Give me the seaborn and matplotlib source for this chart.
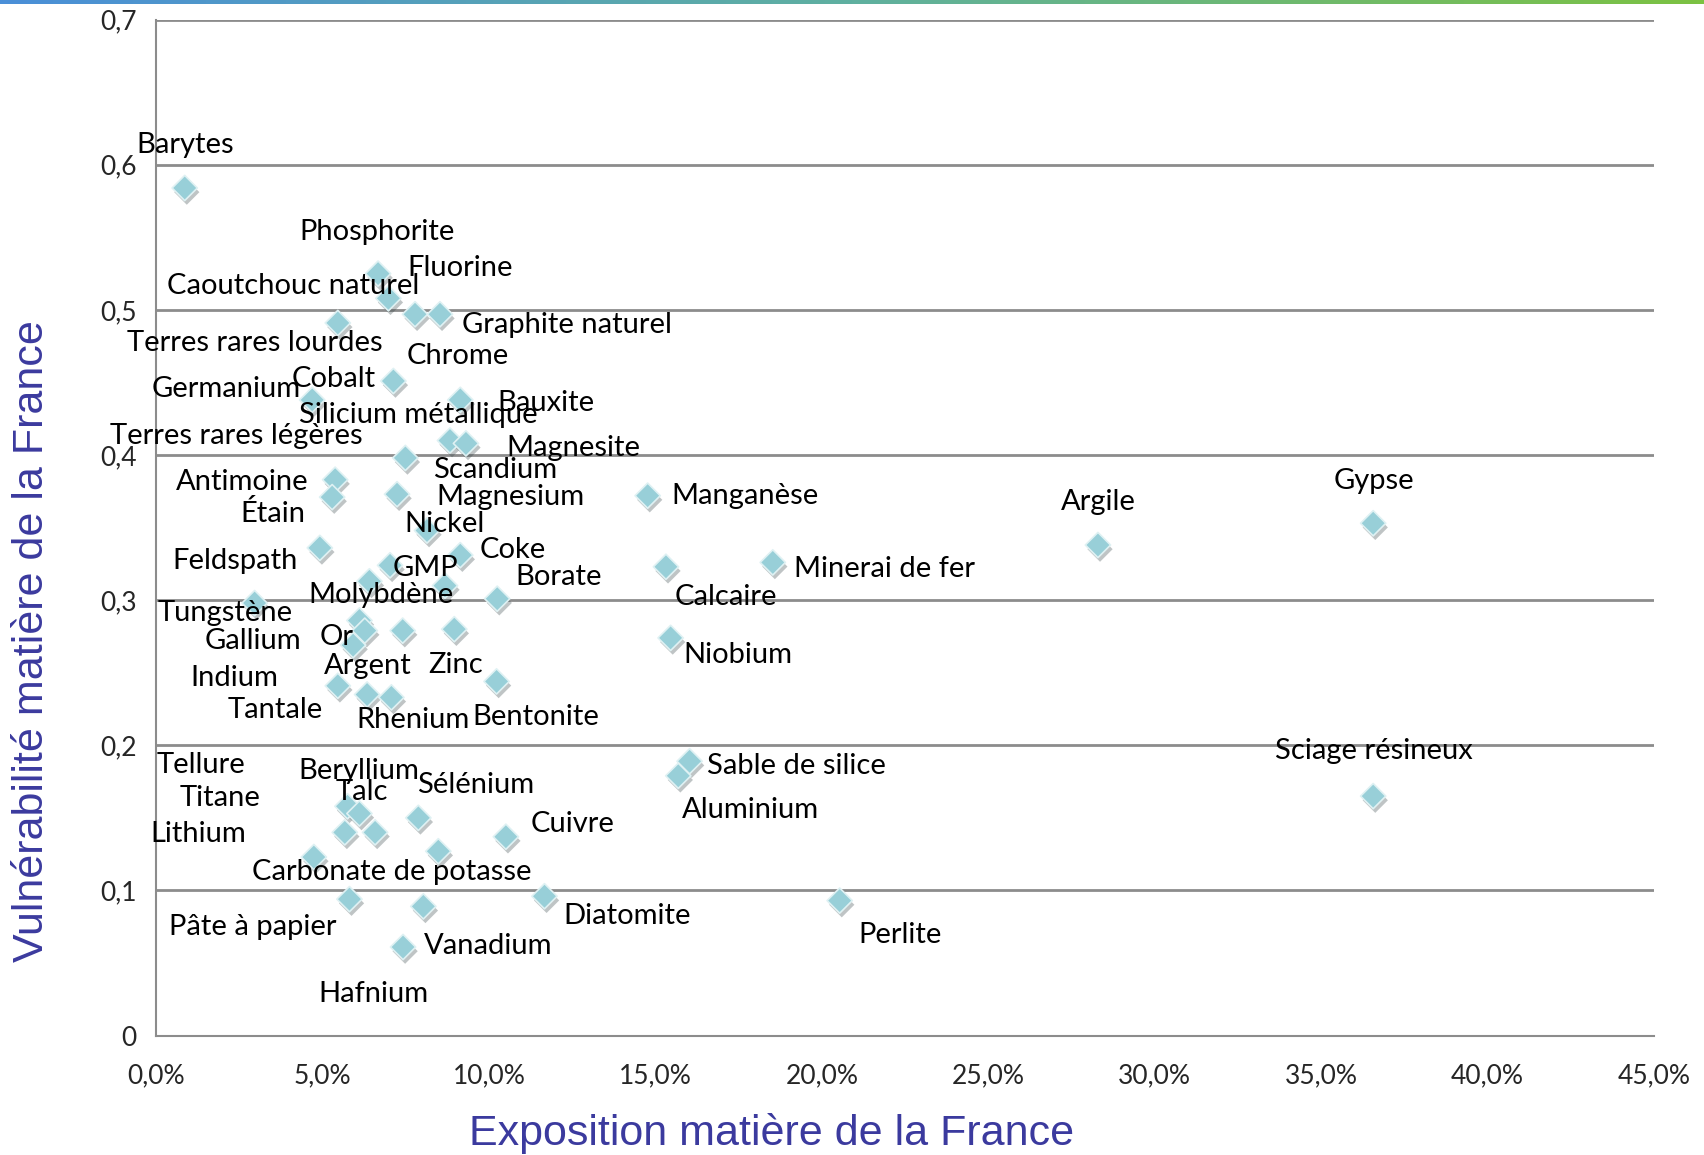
import numpy as np
import pandas as pd
import seaborn as sns
import matplotlib.pyplot as plt
import matplotlib.patheffects as pe
from matplotlib.colors import LinearSegmentedColormap
from matplotlib.ticker import FuncFormatter, MultipleLocator

# Matières premières : exposition (part) et vulnérabilité
matieres = [
    "Barytes", "Phosphorite", "Caoutchouc naturel", "Fluorine", "Graphite naturel",
    "Terres rares lourdes", "Chrome", "Germanium", "Bauxite", "Silicium métallique",
    "Magnesite", "Scandium", "Antimoine", "Étain", "Magnesium", "Manganèse", "Nickel",
    "Feldspath", "Coke", "GMP", "Molybdène", "Cobalt", "Calcaire", "Borate",
    "Tungstène", "Or", "Argent", "Terres rares légères", "Zinc", "Gallium", "Niobium",
    "Indium", "Tantale", "Rhenium", "Bentonite", "Gypse", "Argile", "Minerai de fer",
    "Sciage résineux", "Perlite", "Sable de silice", "Aluminium", "Tellure",
    "Beryllium", "Sélénium", "Titane", "Talc", "Cuivre", "Carbonate de potasse",
    "Lithium", "Pâte à papier", "Vanadium", "Diatomite", "Hafnium",
]
exposition = [
    0.0085, 0.0666, 0.0697, 0.0777, 0.0852,
    0.0545, 0.0712, 0.0468, 0.0913, 0.0882,
    0.0930, 0.0748, 0.0537, 0.0528, 0.0723, 0.1476, 0.0813,
    0.0491, 0.0913, 0.0702, 0.0640, 0.0867, 0.1531, 0.1024,
    0.0295, 0.0610, 0.0626, 0.0740, 0.0895, 0.0591, 0.1545,
    0.0545, 0.0633, 0.0706, 0.1022, 0.3656, 0.2829, 0.1852,
    0.3656, 0.2053, 0.1602, 0.1568, 0.0574,
    0.0610, 0.0787, 0.0566, 0.0657, 0.1050, 0.0847,
    0.0473, 0.0580, 0.0802, 0.1166, 0.0741,
]
vulnerabilite = [
    0.584, 0.525, 0.508, 0.497, 0.497,
    0.491, 0.451, 0.438, 0.438, 0.410,
    0.408, 0.398, 0.383, 0.371, 0.373, 0.372, 0.348,
    0.336, 0.331, 0.324, 0.313, 0.310, 0.323, 0.301,
    0.298, 0.286, 0.279, 0.279, 0.280, 0.269, 0.274,
    0.241, 0.235, 0.233, 0.244, 0.353, 0.338, 0.326,
    0.165, 0.093, 0.189, 0.179, 0.158,
    0.153, 0.150, 0.140, 0.140, 0.137, 0.127,
    0.123, 0.094, 0.089, 0.096, 0.061,
]

# décalage des étiquettes (pixels) par rapport au marqueur
decalage = {
    "Barytes": (0, 43), "Phosphorite": (-1, 42), "Caoutchouc naturel": (-95, 12),
    "Fluorine": (45, 46), "Graphite naturel": (127, -11), "Terres rares lourdes": (-83, -20),
    "Chrome": (64, 25), "Germanium": (-86, 11), "Bauxite": (86, -3),
    "Silicium métallique": (-32, 26), "Magnesite": (107, -5), "Scandium": (90, -12),
    "Antimoine": (-93, -2), "Étain": (-59, -16), "Magnesium": (113, -3),
    "Manganèse": (97, 0), "Nickel": (17, 7), "Feldspath": (-85, -13), "Coke": (52, 5),
    "GMP": (35, -3), "Molybdène": (12, -14), "Cobalt": (-111, 207), "Calcaire": (60, -30),
    "Borate": (61, 22), "Tungstène": (-29, -10), "Or": (-23, -17), "Argent": (3, -35),
    "Terres rares légères": (-166, 195), "Zinc": (1, -36), "Gallium": (-100, 4),
    "Niobium": (67, -17), "Indium": (-103, 8), "Tantale": (-92, -15), "Rhenium": (22, -23),
    "Bentonite": (39, -36), "Gypse": (1, 42), "Argile": (0, 43), "Minerai de fer": (112, -7),
    "Sciage résineux": (1, 45), "Perlite": (60, -34), "Sable de silice": (107, -5),
    "Aluminium": (72, -34), "Tellure": (-146, 41), "Beryllium": (-1, 43),
    "Sélénium": (57, 33), "Titane": (-125, 34), "Talc": (-13, 40), "Cuivre": (67, 13),
    "Carbonate de potasse": (-47, -21), "Lithium": (-116, 23), "Pâte à papier": (-97, -28),
    "Vanadium": (65, -40), "Diatomite": (83, -20), "Hafnium": (-30, -47),
}

df = pd.DataFrame({"matiere": matieres, "exposition": exposition, "vulnerabilite": vulnerabilite})

sns.set_style("white")
plt.rcParams['font.family'] = ['Lato', 'DejaVu Sans']

fig = plt.figure(figsize=(17.04, 11.55), dpi=100)
ax = fig.add_axes([0.0918, 0.1034, 0.8789, 0.8796])

sns.scatterplot(data=df, x="exposition", y="vulnerabilite", marker="D", s=165,
                color="#98cfd8", edgecolor="#dff1f3", linewidth=1.2, ax=ax, zorder=3)
ax.collections[0].set_path_effects([pe.SimplePatchShadow(offset=(1.5, -3), alpha=0.3), pe.Normal()])

for _, r in df.iterrows():
    dx, dy = decalage[r["matiere"]]
    ax.annotate(r["matiere"], (r["exposition"], r["vulnerabilite"]), xytext=(dx, dy),
                textcoords="offset pixels", ha="center", va="center", fontsize=21,
                color="black", zorder=4)

ax.set_xlim(0, 0.45)
ax.set_ylim(0, 0.7)
ax.xaxis.set_major_locator(MultipleLocator(0.05))
ax.yaxis.set_major_locator(MultipleLocator(0.1))
ax.xaxis.set_major_formatter(FuncFormatter(lambda v, p: f"{v*100:.1f}%".replace(".", ",")))
ax.yaxis.set_major_formatter(FuncFormatter(lambda v, p: "0" if abs(v) < 1e-9 else f"{v:.1f}".replace(".", ",")))
ax.grid(axis="y", color="#8c8c8c", linewidth=2)
ax.grid(axis="x", visible=False)
for s in ["top", "right"]:
    ax.spines[s].set_visible(False)
for s in ["left", "bottom"]:
    ax.spines[s].set_color("#8c8c8c")
    ax.spines[s].set_linewidth(1.5)
ax.tick_params(axis="both", direction="out", length=8, width=1.5, color="#8c8c8c",
               labelsize=19, pad=6)
ax.tick_params(axis="x", pad=12)

ax.set_xlabel("Exposition matière de la France", fontsize=31, color="#3b3a9e",
              family="Liberation Sans", va="center")
ax.set_ylabel("Vulnérabilité matière de la France", fontsize=31, color="#3b3a9e",
              family="Liberation Sans", va="center")
ax.xaxis.set_label_coords(0.411, -0.096)
ax.yaxis.set_label_coords(-0.083, 0.388)

# liseré dégradé en haut
bar = fig.add_axes([0, 0.9965, 1, 0.0035])
grad = LinearSegmentedColormap.from_list("g", ["#4a8fd8", "#5fb0a0", "#7cc242"])
bar.imshow(np.linspace(0, 1, 256)[None, :], aspect="auto", cmap=grad)
bar.axis("off")

fig.savefig("out.png", dpi=100)
